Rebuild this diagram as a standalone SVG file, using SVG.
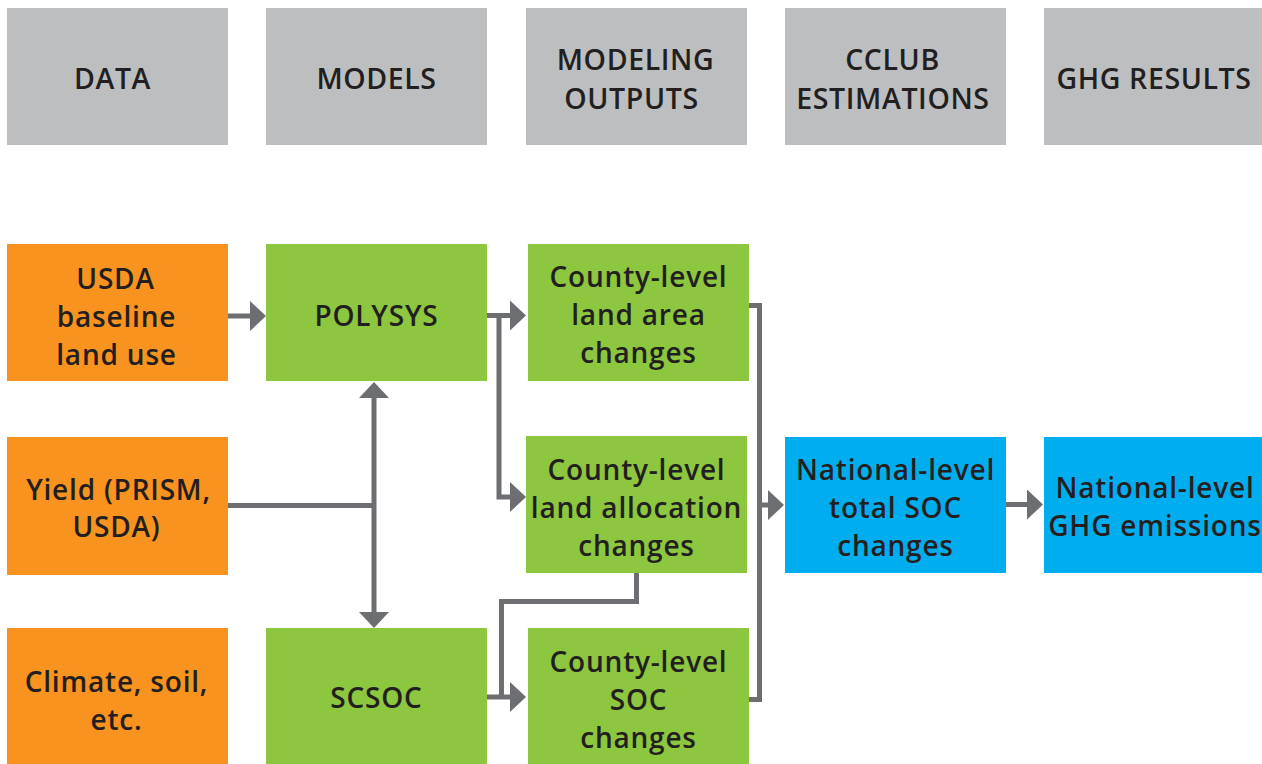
<svg xmlns="http://www.w3.org/2000/svg" width="1262" height="764" viewBox="0 0 1262 764">
<style>
.hdr{fill:#bcbec0}
.org{fill:#f7931e}
.grn{fill:#8dc63f}
.blu{fill:#00aeef}
.ht{font-family:"Open Sans","Liberation Sans",sans-serif;font-weight:600;font-size:28.5px;letter-spacing:0.6px;fill:#231f20;text-anchor:middle}
.bt{font-family:"Open Sans","Liberation Sans",sans-serif;font-weight:600;font-size:28px;letter-spacing:0.8px;fill:#231f20;text-anchor:middle}
.cn{fill:none;stroke:#6d6e71;stroke-width:5}
</style>
<defs>
<marker id="ah" markerUnits="userSpaceOnUse" markerWidth="16" markerHeight="30" refX="0" refY="15" orient="auto-start-reverse" viewBox="0 0 16 30">
<path d="M0,0 L16,15 L0,30 Z" fill="#6d6e71"/>
</marker>
</defs>
<rect width="1262" height="764" fill="#ffffff"/>
<g id="header-data"><rect class="hdr" x="7" y="8" width="221" height="137"/><text class="ht" x="112.5" y="89">DATA</text></g>
<g id="header-models"><rect class="hdr" x="266" y="8" width="221" height="137"/><text class="ht" x="376.5" y="89">MODELS</text></g>
<g id="header-outputs"><rect class="hdr" x="526" y="8" width="221" height="137"/><text class="ht" x="635.5" y="70">MODELING</text><text class="ht" x="631.5" y="109">OUTPUTS</text></g>
<g id="header-cclub"><rect class="hdr" x="785" y="8" width="221" height="137"/><text class="ht" x="892.5" y="70">CCLUB</text><text class="ht" x="893" y="109">ESTIMATIONS</text></g>
<g id="header-ghg"><rect class="hdr" x="1044" y="8" width="218" height="137"/><text class="ht" x="1154" y="89">GHG RESULTS</text></g>

<g id="usda"><rect class="org" x="7" y="244" width="221" height="137"/><text class="bt" x="115.5" y="289">USDA</text><text class="bt" x="116.5" y="327">baseline</text><text class="bt" x="116.5" y="365">land use</text></g>
<g id="yield"><rect class="org" x="7" y="437" width="221" height="138"/><text class="bt" x="118.5" y="500">Yield (PRISM,</text><text class="bt" x="116.5" y="537">USDA)</text></g>
<g id="climate"><rect class="org" x="7" y="628" width="221" height="136"/><text class="bt" x="116.5" y="692">Climate, soil,</text><text class="bt" x="116.5" y="730">etc.</text></g>

<g id="polysys"><rect class="grn" x="266" y="244" width="221" height="137"/><text class="bt" x="376.5" y="326">POLYSYS</text></g>
<g id="scsoc"><rect class="grn" x="266" y="628" width="221" height="136"/><text class="bt" x="376.5" y="708">SCSOC</text></g>

<g id="land-area"><rect class="grn" x="528" y="244" width="221" height="137"/><text class="bt" x="638.5" y="287">County-level</text><text class="bt" x="638.5" y="325">land area</text><text class="bt" x="638.5" y="363">changes</text></g>
<g id="land-allocation"><rect class="grn" x="526" y="436" width="221" height="137"/><text class="bt" x="636.5" y="480">County-level</text><text class="bt" x="636.5" y="518">land allocation</text><text class="bt" x="636.5" y="556">changes</text></g>
<g id="soc-changes"><rect class="grn" x="528" y="628" width="221" height="136"/><text class="bt" x="638.5" y="672">County-level</text><text class="bt" x="638.5" y="710">SOC</text><text class="bt" x="638.5" y="748">changes</text></g>

<g id="national-soc"><rect class="blu" x="785" y="437" width="221" height="136"/><text class="bt" x="895.5" y="480">National-level</text><text class="bt" x="895.5" y="518">total SOC</text><text class="bt" x="895.5" y="556">changes</text></g>
<g id="national-ghg"><rect class="blu" x="1044" y="437" width="218" height="136"/><text class="bt" x="1155" y="498">National-level</text><text class="bt" x="1155" y="536">GHG emissions</text></g>

<g id="connectors">
<path class="cn" d="M228,316 H250" marker-end="url(#ah)"/>
<path class="cn" d="M228,505.5 H374"/>
<path class="cn" d="M374,398 V612" marker-start="url(#ah)" marker-end="url(#ah)"/>
<path class="cn" d="M487,315.5 H510" marker-end="url(#ah)"/>
<path class="cn" d="M499,315.5 V497 H510" marker-end="url(#ah)"/>
<path class="cn" d="M636.5,573 V601.5 H501.5 V697"/>
<path class="cn" d="M487,697 H510" marker-end="url(#ah)"/>
<path class="cn" d="M749,305.5 H759.5 V699.5 H749"/>
<path class="cn" d="M759.5,505 H768" marker-end="url(#ah)"/>
<path class="cn" d="M1006,504.5 H1027" marker-end="url(#ah)"/>
</g>
</svg>
